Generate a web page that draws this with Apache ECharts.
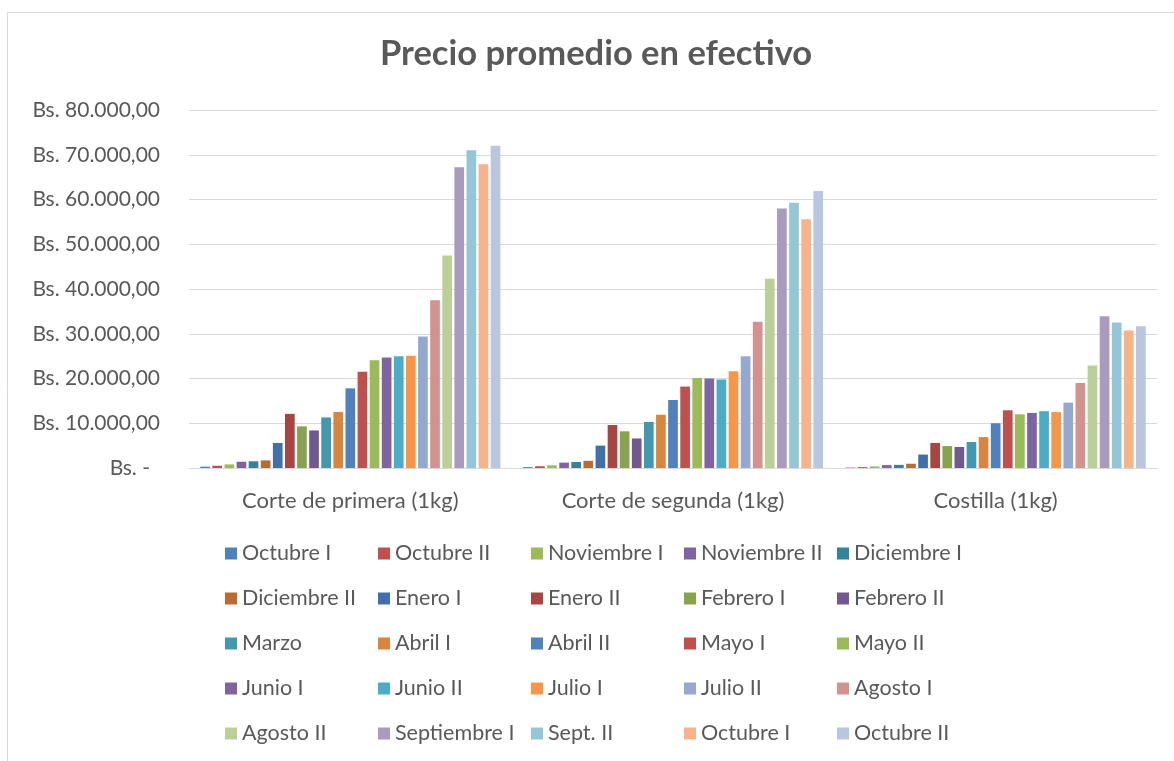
<!DOCTYPE html>
<html>
<head>
<meta charset="utf-8">
<script src="https://cdn.jsdelivr.net/npm/echarts@6/dist/echarts.min.js"></script>
<style>
  html, body { margin: 0; padding: 0; background: #fff; }
  #chart { width: 1174px; height: 761px; }
</style>
</head>
<body>
<div id="chart"></div>
<script>
// categorias del eje X
const productos = ['Corte de primera (1kg)', 'Corte de segunda (1kg)', 'Costilla (1kg)'];

// quincenas (una serie por cada una)
const periodos = [
  'Octubre I', 'Octubre II', 'Noviembre I', 'Noviembre II', 'Diciembre I',
  'Diciembre II', 'Enero I', 'Enero II', 'Febrero I', 'Febrero II',
  'Marzo', 'Abril I', 'Abril II', 'Mayo I', 'Mayo II',
  'Junio I', 'Junio II', 'Julio I', 'Julio II', 'Agosto I',
  'Agosto II', 'Septiembre I', 'Sept. II', 'Octubre I', 'Octubre II'
];

// precios (Bs.)
const cortePrimera = [300, 500, 800, 1400, 1500, 1700, 5600, 12100, 9300, 8400,
  11300, 12500, 17800, 21500, 24100, 24700, 25000, 25100, 29400, 37500,
  47500, 67200, 71000, 67900, 72000];
const corteSegunda = [200, 400, 600, 1200, 1350, 1600, 5000, 9600, 8200, 6600,
  10300, 11900, 15200, 18200, 20100, 20000, 19800, 21600, 25000, 32700,
  42300, 58000, 59300, 55600, 61900];
const costilla = [100, 200, 350, 650, 700, 950, 3000, 5600, 4900, 4700,
  5800, 6900, 10000, 12900, 12000, 12300, 12700, 12500, 14600, 19000,
  22900, 33900, 32500, 30700, 31700];

const colores = [
  '#4F81BD', '#C0504D', '#9BBB59', '#8064A2', '#31849B',
  '#BA6C30', '#4070A8', '#A84442', '#88A34E', '#71588F',
  '#4198AF', '#DB843D', '#4F81BD', '#C0504D', '#9BBB59',
  '#8064A2', '#4BACC6', '#F79646', '#95A9D0', '#D39290',
  '#BBD097', '#A99BBD', '#93C6D6', '#F9B38A', '#B9C6DF'
];

const fuente = 'Lato, "Open Sans", sans-serif';
const gris = '#595959';

// formato contable: Bs. 10.000,00
const formatoBs = (v) => {
  if (v === 0) return '{z|Bs. -}';
  const s = v.toFixed(0).replace(/\B(?=(\d{3})+(?!\d))/g, '.');
  return 'Bs. ' + s + ',00';
};

const myChart = echarts.init(document.getElementById('chart'));

const series = periodos.map((nombre, i) => ({
  name: nombre + '#' + i,
  type: 'bar',
  data: [cortePrimera[i], corteSegunda[i], costilla[i]],
  itemStyle: { color: colores[i] },
  barGap: '25%',
  barCategoryGap: '7%'
}));

const option = {
  animation: false,
  backgroundColor: '#fff',
  title: {
    text: 'Precio promedio en efectivo',
    left: 380,
    top: 36,
    padding: 0,
    textStyle: { fontFamily: fuente, fontSize: 34.5, fontWeight: 'bold', color: gris }
  },
  graphic: [{
    type: 'rect',
    shape: { x: 7.5, y: 12.5, width: 1300, height: 900 },
    style: { fill: 'none', stroke: '#D9D9D9', lineWidth: 1 },
    silent: true
  }],
  grid: { left: 189, right: 17, top: 110, bottom: 293, containLabel: false },
  legend: {
    left: 225,
    top: 536,
    width: 770,
    padding: 0,
    itemWidth: 12,
    itemHeight: 12,
    itemGap: 10,
    icon: 'rect',
    formatter: (n) => n.split('#')[0],
    textStyle: {
      fontFamily: fuente, fontSize: 21.5, color: gris,
      width: 126, lineHeight: 35, overflow: 'none'
    },
    data: series.map(s => s.name)
  },
  xAxis: {
    type: 'category',
    data: productos,
    axisTick: { show: false },
    axisLine: { lineStyle: { color: '#D9D9D9', width: 1 } },
    axisLabel: { fontFamily: fuente, fontSize: 22, color: gris, margin: 22 }
  },
  yAxis: {
    type: 'value',
    min: 0,
    max: 80000,
    interval: 10000,
    axisLine: { show: false },
    axisTick: { show: false },
    splitLine: { lineStyle: { color: '#D9D9D9', width: 1 } },
    axisLabel: {
      fontFamily: fuente, fontSize: 21, color: gris, margin: 29,
      formatter: formatoBs,
      rich: { z: { fontFamily: fuente, fontSize: 21, color: gris, padding: [0, 10, 0, 0] } }
    }
  },
  series: series
};

myChart.setOption(option);
</script>
</body>
</html>
